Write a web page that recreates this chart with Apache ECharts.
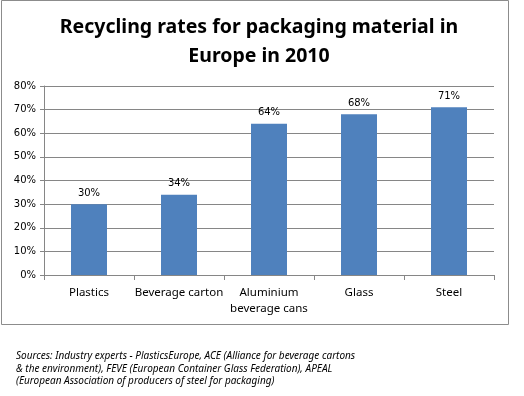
<!DOCTYPE html>
<html><head><meta charset="utf-8">
<script src="https://cdn.jsdelivr.net/npm/echarts@6/dist/echarts.min.js"></script>
<style>html,body{margin:0;padding:0;background:#fff}#c{width:524px;height:396px}</style>
</head><body><div id="c"></div>
<script>
const titleText = 'Recycling rates for packaging material in\nEurope in 2010';
const categories = ['Plastics', 'Beverage carton', 'Aluminium\nbeverage cans', 'Glass', 'Steel'];
const rates = [30, 34, 64, 68, 71];
const yTicks = [0, 10, 20, 30, 40, 50, 60, 70, 80];
const sourceText = 'Sources: Industry experts - PlasticsEurope, ACE (Alliance for beverage cartons\n& the environment), FEVE (European Container Glass Federation), APEAL\n(European Association of producers of steel for packaging)';

const chart = echarts.init(document.getElementById('c'), null, {renderer: 'canvas'});
chart.setOption({
  animation: false,
  backgroundColor: '#fff',
  title: {
    text: titleText, left: 254, top: 8, textAlign: 'center',
    textStyle: {fontFamily: 'Noto Sans', fontWeight: 'bold', fontSize: 19.5, lineHeight: 29, color: '#000'}
  },
  graphic: [
    {type: 'rect', shape: {x: 1.5, y: 0.5, width: 507, height: 324}, style: {fill: 'none', stroke: '#8c8c8c', lineWidth: 1}, z: 100},
    {type: 'text', left: 16, top: 350, style: {text: sourceText, font: 'italic 10px "Noto Sans"', lineHeight: 12.5, fill: '#000'}}
  ],
  grid: {left: 44, top: 86, right: 30, bottom: 121},
  xAxis: {
    type: 'category', data: categories,
    axisLine: {lineStyle: {color: '#868686'}},
    axisTick: {show: true, length: 5, lineStyle: {color: '#868686'}},
    axisLabel: {interval: 0, color: '#000', fontFamily: 'Noto Sans', fontSize: 11.5, margin: 10, lineHeight: 16}
  },
  yAxis: {
    type: 'value', min: yTicks[0], max: yTicks[yTicks.length - 1], interval: 10,
    axisLine: {show: true, lineStyle: {color: '#868686'}},
    axisTick: {show: true, length: 4, lineStyle: {color: '#868686'}},
    splitLine: {lineStyle: {color: '#868686'}},
    axisLabel: {formatter: v => v + '%', color: '#000', fontFamily: 'DejaVu Sans', fontSize: 10, margin: 8}
  },
  series: [{
    type: 'bar', data: rates, barWidth: '40%',
    itemStyle: {color: '#4F81BD'},
    label: {show: true, position: 'top', distance: 6, formatter: p => p.value + '%', color: '#000', fontFamily: 'DejaVu Sans', fontSize: 10}
  }]
});
</script></body></html>
